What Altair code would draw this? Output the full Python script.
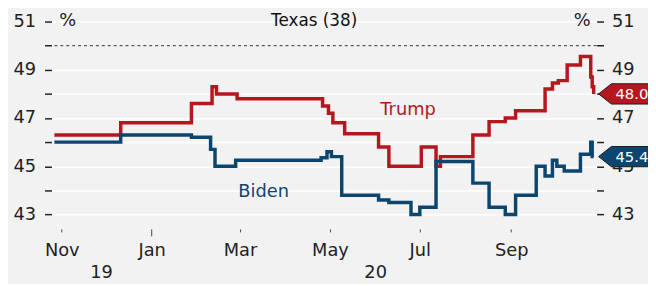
import altair as alt
import pandas as pd

# ---------------- data ----------------
trump_dates = ["2019-10-27", "2019-12-11", "2020-01-28", "2020-02-11", "2020-02-14", "2020-02-28",
               "2020-04-26", "2020-04-30", "2020-05-03", "2020-05-11", "2020-06-03", "2020-06-10",
               "2020-07-02", "2020-07-12", "2020-07-15", "2020-08-06", "2020-08-17", "2020-08-28",
               "2020-09-04", "2020-09-24", "2020-09-29", "2020-10-03", "2020-10-09", "2020-10-18",
               "2020-10-25", "2020-10-26", "2020-10-27"]
trump_values = [46.3, 46.8, 47.6, 48.3, 48.0, 47.8,
                47.5, 47.2, 46.8, 46.35, 45.8, 45.0,
                45.8, 45.0, 45.4, 46.3, 46.85, 47.0,
                47.3, 48.2, 48.45, 48.55, 49.2, 49.55,
                48.7, 48.3, 48.0]

biden_dates = ["2019-10-27", "2019-12-11", "2020-01-28", "2020-02-10", "2020-02-13", "2020-02-27",
               "2020-04-25", "2020-04-29", "2020-05-02", "2020-05-09", "2020-06-03", "2020-06-10",
               "2020-06-25", "2020-07-01", "2020-07-12", "2020-08-06", "2020-08-17", "2020-08-28",
               "2020-09-04", "2020-09-18", "2020-09-24", "2020-09-29", "2020-10-02", "2020-10-07",
               "2020-10-18", "2020-10-25", "2020-10-26", "2020-10-27"]
biden_values = [46.0, 46.3, 46.2, 45.7, 45.0, 45.25,
                45.35, 45.6, 45.4, 43.8, 43.6, 43.5,
                43.0, 43.3, 45.2, 44.3, 43.3, 43.0,
                43.8, 45.0, 44.6, 45.25, 45.0, 44.8,
                45.5, 46.0, 45.4, 45.4]

candidates = ["Trump", "Biden"]
colors = ["#b5171f", "#0c466e"]
y_ticks = [43, 44, 45, 46, 47, 48, 49, 50, 51]
month_ticks = [(2019, 11), (2020, 1), (2020, 3), (2020, 5), (2020, 7), (2020, 9)]
year_labels = ["19", "20"]
year_label_dates = ["2019-11-28", "2020-06-01"]
series_label_dates = ["2020-06-23", "2020-03-17"]
series_label_values = [47.35, 43.92]
title_text = "Texas (38)"

# ---------------- frames ----------------
df = pd.concat([
    pd.DataFrame({"candidate": "Trump", "date": trump_dates, "value": trump_values}),
    pd.DataFrame({"candidate": "Biden", "date": biden_dates, "value": biden_values}),
], ignore_index=True)

ends = pd.DataFrame({
    "candidate": candidates,
    "date": [trump_dates[-1], biden_dates[-1]],
    "value": [trump_values[-1], biden_values[-1]],
})
labels_df = pd.DataFrame({"candidate": candidates, "date": series_label_dates, "value": series_label_values})
years_df = pd.DataFrame({"label": year_labels, "date": year_label_dates})

W, H = 552, 210
FONT = "DejaVu Sans"
INK = "#222222"

xscale = alt.Scale(type="utc", domain=[alt.DateTime(year=2019, month=10, date=25, utc=True),
                                       alt.DateTime(year=2020, month=10, date=29, utc=True)])
yscale = alt.Scale(domain=[42.4, 51], nice=False, zero=False)
cscale = alt.Scale(domain=candidates, range=colors)

month_vals = [alt.DateTime(year=y, month=m, date=1, utc=True) for y, m in month_ticks]
odd_label = "datum.value % 2 == 1 ? datum.label : ''"
is_jan = "utcmonth(datum.value) == 0"

x_axis = alt.Axis(values=month_vals, labelExpr="utcFormat(datum.value, '%b')",
                  tickSize={"condition": {"test": is_jan, "value": 7}, "value": 3},
                  labelPadding={"condition": {"test": is_jan, "value": 6}, "value": 10},
                  tickColor="#444444", tickWidth=1, domain=False, grid=False,
                  labelFontSize=18, labelColor=INK, labelFont=FONT, title=None)

left_axis = alt.Axis(orient="left", values=y_ticks, labelExpr=odd_label, tickSize=7,
                     tickColor=INK, tickWidth=1.5, domain=False, labelPadding=9,
                     labelFontSize=18, labelColor=INK, labelFont=FONT, title=None,
                     grid=True, gridColor="#ffffff", gridWidth=1.5,
                     gridOpacity={"condition": {"test": "datum.value == 50", "value": 0}, "value": 1})

right_axis = alt.Axis(orient="right", values=y_ticks, labelExpr=odd_label, tickSize=7,
                      tickColor=INK, tickWidth=1.5, domain=False, labelPadding=8,
                      labelFontSize=18, labelColor=INK, labelFont=FONT,
                      title=None, grid=False)

lines = alt.Chart(df).mark_line(interpolate="step-after", strokeWidth=3.5).encode(
    x=alt.X("date:T", scale=xscale, axis=x_axis),
    y=alt.Y("value:Q", scale=yscale, axis=left_axis),
    color=alt.Color("candidate:N", scale=cscale, legend=None),
    detail="candidate:N",
)

dashed = alt.Chart(pd.DataFrame({"v": [50]})).mark_rule(
    strokeDash=[3, 3], color="#333333", strokeWidth=1
).encode(y=alt.Y("v:Q", scale=yscale, axis=None))

series_labels = alt.Chart(labels_df).mark_text(fontSize=18, font=FONT, align="center",
                                               baseline="middle").encode(
    x=alt.X("date:T", scale=xscale, axis=None),
    y=alt.Y("value:Q", scale=yscale, axis=None),
    text="candidate:N",
    color=alt.Color("candidate:N", scale=cscale, legend=None),
)

pent = "M-1,0 L-0.52,-0.38 L1,-0.38 L1,0.38 L-0.52,0.38 Z"
callouts = alt.Chart(ends).mark_point(shape=pent, size=2916, filled=True, opacity=1,
                                      stroke="#1a1a1a", strokeWidth=1).encode(
    x=alt.value(581),
    y=alt.Y("value:Q", scale=yscale, axis=right_axis),
    color=alt.Color("candidate:N", scale=cscale, legend=None),
)
callout_text = alt.Chart(ends).mark_text(fontSize=15, font=FONT, align="left", baseline="middle",
                                         color="#ffffff").encode(
    x=alt.value(571),
    y=alt.Y("value:Q", scale=yscale, axis=None),
    text=alt.Text("value:Q", format=".1f"),
)

title = alt.Chart(pd.DataFrame({"t": [title_text]})).mark_text(
    fontSize=17, font=FONT, align="center", baseline="middle", color="#111111"
).encode(x=alt.value(266), y=alt.value(0), text="t:N")

pct_left = alt.Chart(pd.DataFrame({"t": ["%"]})).mark_text(
    fontSize=18, font=FONT, align="left", baseline="middle", color=INK
).encode(x=alt.value(8), y=alt.value(0), text="t:N")
pct_right = alt.Chart(pd.DataFrame({"t": ["%"]})).mark_text(
    fontSize=18, font=FONT, align="right", baseline="middle", color=INK
).encode(x=alt.value(546), y=alt.value(0), text="t:N")

years = alt.Chart(years_df).mark_text(fontSize=18, font=FONT, align="center",
                                      baseline="middle", color=INK).encode(
    x=alt.X("date:T", scale=xscale, axis=None),
    y=alt.value(255),
    text="label:N",
)

chart = alt.layer(
    dashed, lines, series_labels, callouts, callout_text, title, pct_left, pct_right, years
).resolve_axis(y="independent", x="independent").properties(
    width=W, height=H,
    autosize=alt.AutoSizeParams(type="none"),
    padding={"left": 44, "top": 12, "right": 52, "bottom": 54},
).configure(background="#f2f2f2", font=FONT).configure_view(stroke="transparent")

chart.save("out.html", embed_options={"renderer": "svg", "actions": False})
